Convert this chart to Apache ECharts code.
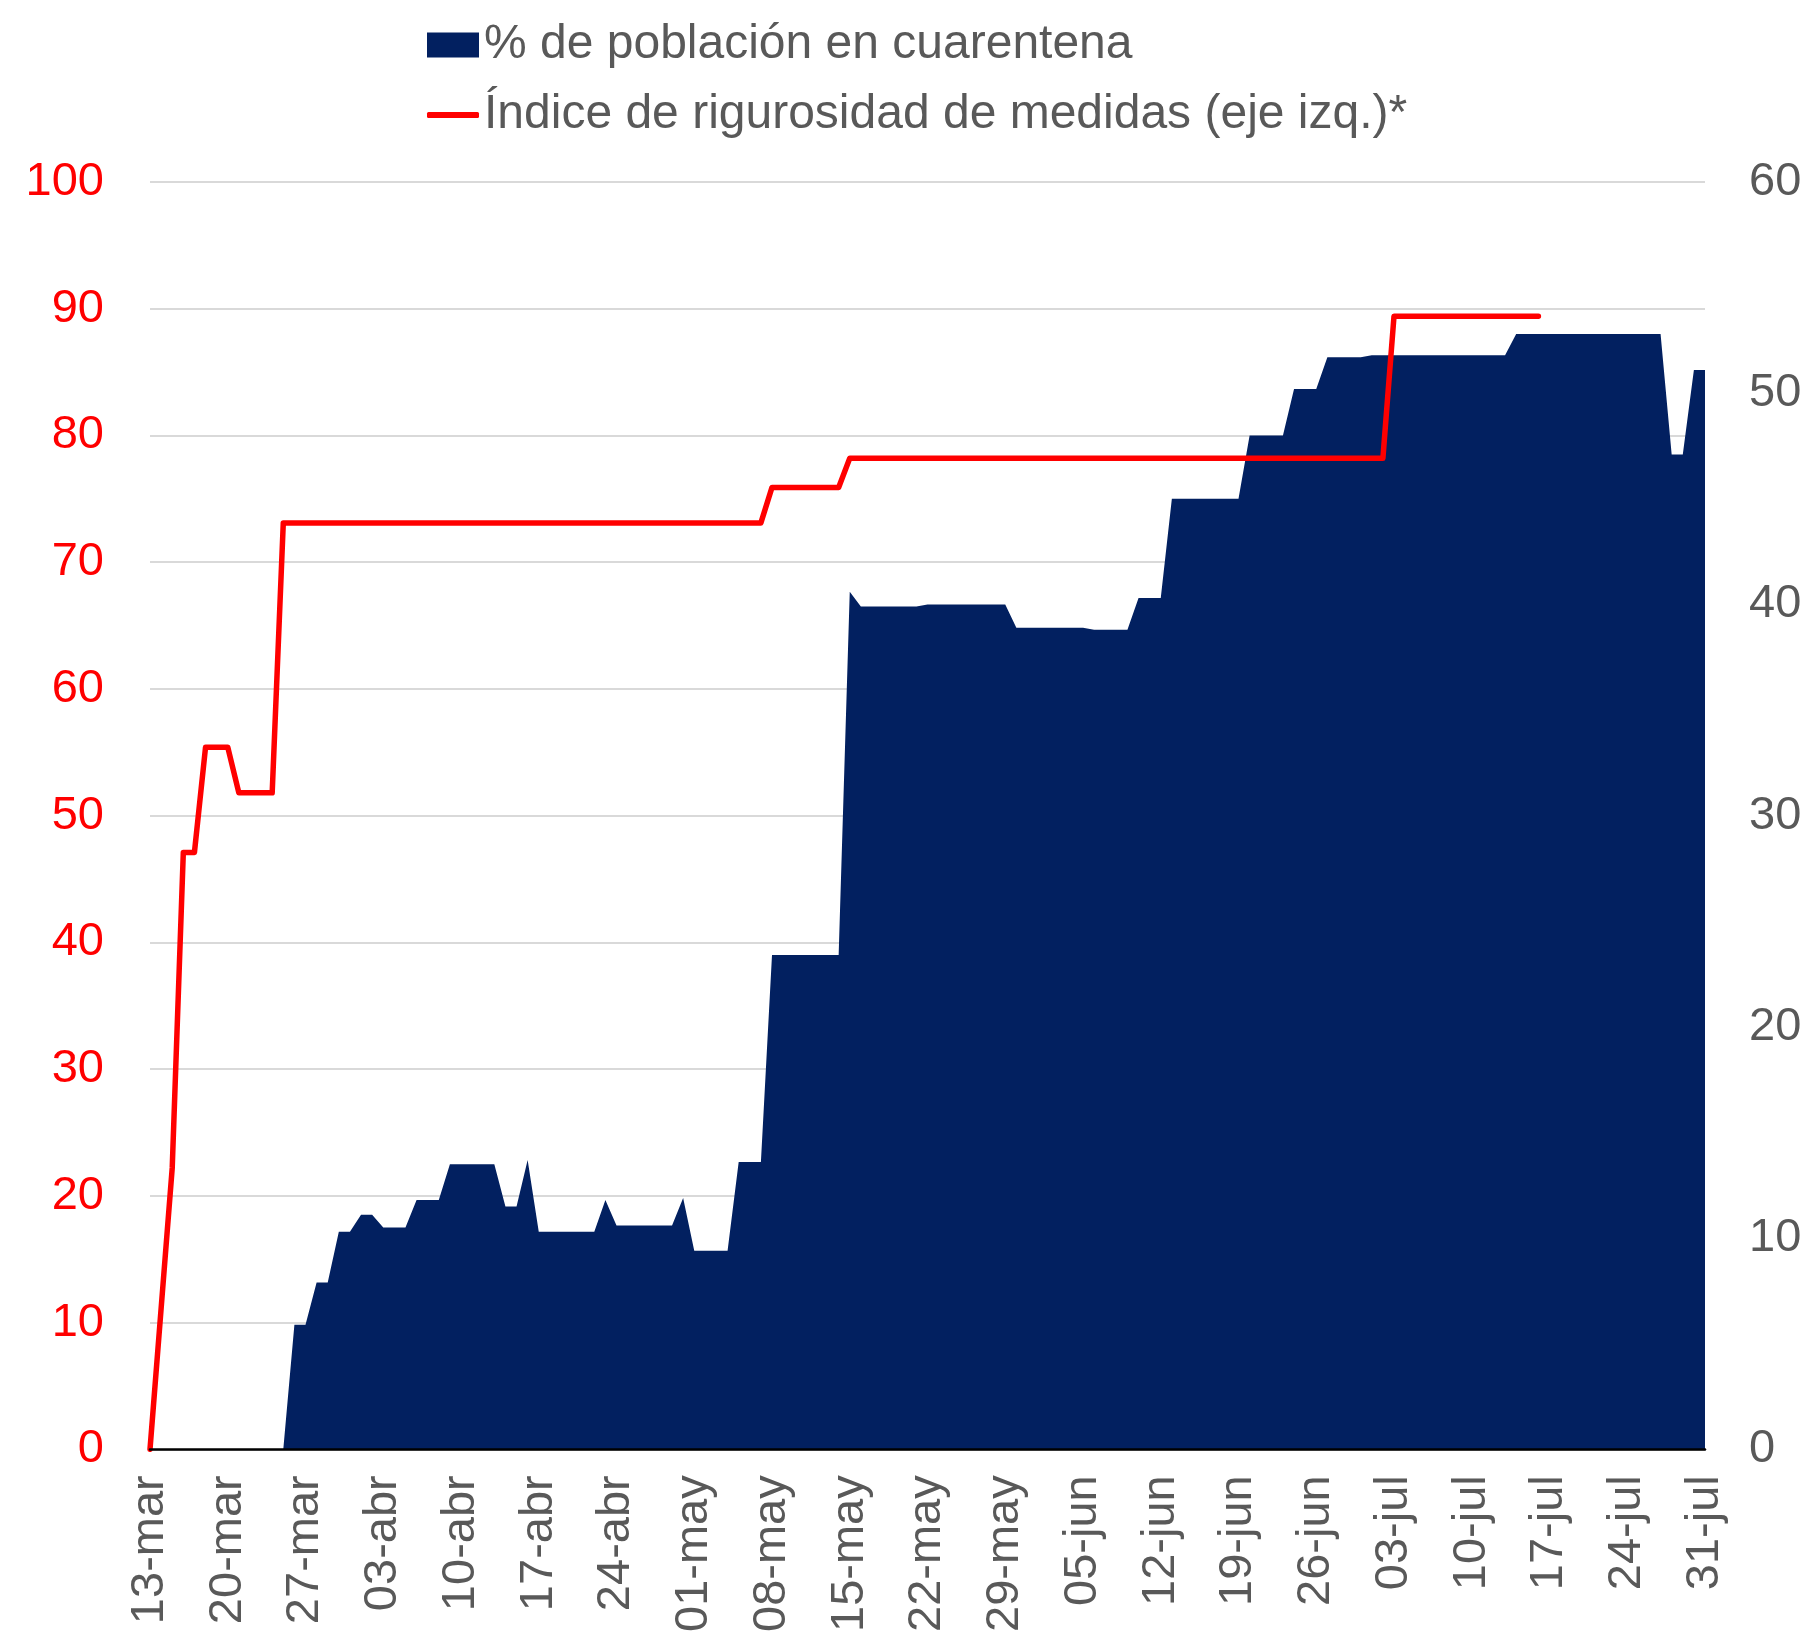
<!DOCTYPE html>
<html>
<head>
<meta charset="utf-8">
<script src="https://cdn.jsdelivr.net/npm/echarts@6/dist/echarts.min.js"></script>
<style>
html,body{margin:0;padding:0;background:#fff;}
#chart{width:1808px;height:1635px;}
</style>
</head>
<body>
<div id="chart"></div>
<script>
const dates = [
'13-mar','14-mar','15-mar','16-mar','17-mar','18-mar','19-mar','20-mar','21-mar','22-mar','23-mar','24-mar','25-mar','26-mar','27-mar','28-mar','29-mar','30-mar','31-mar',
'01-abr','02-abr','03-abr','04-abr','05-abr','06-abr','07-abr','08-abr','09-abr','10-abr','11-abr','12-abr','13-abr','14-abr','15-abr','16-abr','17-abr','18-abr','19-abr','20-abr','21-abr','22-abr','23-abr','24-abr','25-abr','26-abr','27-abr','28-abr','29-abr','30-abr',
'01-may','02-may','03-may','04-may','05-may','06-may','07-may','08-may','09-may','10-may','11-may','12-may','13-may','14-may','15-may','16-may','17-may','18-may','19-may','20-may','21-may','22-may','23-may','24-may','25-may','26-may','27-may','28-may','29-may','30-may','31-may',
'01-jun','02-jun','03-jun','04-jun','05-jun','06-jun','07-jun','08-jun','09-jun','10-jun','11-jun','12-jun','13-jun','14-jun','15-jun','16-jun','17-jun','18-jun','19-jun','20-jun','21-jun','22-jun','23-jun','24-jun','25-jun','26-jun','27-jun','28-jun','29-jun','30-jun',
'01-jul','02-jul','03-jul','04-jul','05-jul','06-jul','07-jul','08-jul','09-jul','10-jul','11-jul','12-jul','13-jul','14-jul','15-jul','16-jul','17-jul','18-jul','19-jul','20-jul','21-jul','22-jul','23-jul','24-jul','25-jul','26-jul','27-jul','28-jul','29-jul','30-jul','31-jul'
];

// % de población en cuarentena (right axis, 0-60)
const cuarentena = [
0,0,0,0,0,0,0,0,0,0,0,0,0,
5.9,5.9,7.9,7.9,10.3,10.3,11.1,11.1,10.5,10.5,10.5,11.8,11.8,11.8,
13.5,13.5,13.5,13.5,13.5,11.5,11.5,13.7,
10.3,10.3,10.3,10.3,10.3,10.3,11.8,
10.6,10.6,10.6,10.6,10.6,10.6,11.9,
9.4,9.4,9.4,9.4,13.6,13.6,13.6,
23.4,23.4,23.4,23.4,23.4,23.4,23.4,
40.6,
39.9,39.9,39.9,39.9,39.9,39.9,
40.0,40.0,40.0,40.0,40.0,40.0,40.0,40.0,
38.9,38.9,38.9,38.9,38.9,38.9,38.9,
38.8,38.8,38.8,38.8,
40.3,40.3,40.3,
45.0,45.0,45.0,45.0,45.0,45.0,45.0,
48.0,48.0,48.0,48.0,
50.2,50.2,50.2,
51.7,51.7,51.7,51.7,
51.8,51.8,51.8,51.8,51.8,51.8,51.8,51.8,51.8,51.8,51.8,51.8,51.8,
52.8,52.8,52.8,52.8,52.8,52.8,52.8,52.8,52.8,52.8,52.8,52.8,52.8,52.8,
47.1,47.1,
51.1,51.1
];

// Índice de rigurosidad de medidas (left axis, 0-100)
const indice = [
0,11.1,22.2,47.1,47.1,55.4,55.4,55.4,51.8,51.8,51.8,51.8,
73.1,73.1,73.1,73.1,73.1,73.1,73.1,73.1,73.1,73.1,73.1,
73.1,73.1,73.1,73.1,73.1,73.1,73.1,73.1,73.1,73.1,73.1,
73.1,73.1,73.1,73.1,73.1,73.1,73.1,73.1,73.1,73.1,73.1,
73.1,73.1,73.1,73.1,73.1,73.1,73.1,73.1,73.1,73.1,73.1,
75.9,75.9,75.9,75.9,75.9,75.9,75.9,
78.2,78.2,78.2,78.2,78.2,78.2,78.2,78.2,78.2,78.2,
78.2,78.2,78.2,78.2,78.2,78.2,78.2,78.2,78.2,78.2,
78.2,78.2,78.2,78.2,78.2,78.2,78.2,78.2,78.2,78.2,
78.2,78.2,78.2,78.2,78.2,78.2,78.2,78.2,78.2,78.2,
78.2,78.2,78.2,78.2,78.2,78.2,78.2,78.2,78.2,
89.4,89.4,89.4,89.4,89.4,89.4,89.4,89.4,89.4,89.4,89.4,89.4,89.4,89.4
];

const leftTicks = {min: 0, max: 100, interval: 10};
const rightTicks = {min: 0, max: 60, interval: 10};

const FONT = "'Liberation Sans', Arial, sans-serif";
const NAVY = '#022060';
const RED = '#FF0000';
const GRAY = '#595959';

const chart = echarts.init(document.getElementById('chart'), null, {renderer: 'canvas'});
chart.setOption({
  animation: false,
  backgroundColor: '#ffffff',
  textStyle: {fontFamily: FONT},
  legend: [
    {
      data: [{name: '% de población en cuarentena', icon: 'rect'}],
      left: 427, top: 21, padding: 0,
      itemWidth: 52, itemHeight: 25,
      textStyle: {fontSize: 48, color: GRAY, fontFamily: FONT}
    },
    {
      data: [{name: 'Índice de rigurosidad de medidas (eje izq.)*', icon: 'roundRect'}],
      left: 427, top: 91, padding: 0,
      itemWidth: 52, itemHeight: 6,
      textStyle: {fontSize: 48, color: GRAY, fontFamily: FONT}
    }
  ],
  grid: {left: 150, right: 103, top: 182, bottom: 185.5, containLabel: false},
  xAxis: {
    type: 'category',
    data: dates,
    boundaryGap: false,
    z: 10,
    axisLine: {show: true, lineStyle: {color: '#000000', width: 2.5}},
    axisTick: {show: false},
    axisLabel: {
      interval: 6, rotate: 90, fontSize: 47, color: GRAY, margin: 26, fontFamily: FONT
    },
    splitLine: {show: false}
  },
  yAxis: [
    {
      type: 'value', position: 'left',
      min: leftTicks.min, max: leftTicks.max, interval: leftTicks.interval,
      axisLine: {show: false}, axisTick: {show: false},
      axisLabel: {fontSize: 47, color: RED, margin: 46, fontFamily: FONT},
      splitLine: {show: true, lineStyle: {color: '#d9d9d9', width: 2}}
    },
    {
      type: 'value', position: 'right',
      min: rightTicks.min, max: rightTicks.max, interval: rightTicks.interval,
      axisLine: {show: false}, axisTick: {show: false},
      axisLabel: {fontSize: 47, color: GRAY, margin: 44, fontFamily: FONT},
      splitLine: {show: false}
    }
  ],
  series: [
    {
      name: '% de población en cuarentena',
      type: 'line',
      yAxisIndex: 1,
      data: cuarentena,
      symbol: 'none',
      z: 2,
      itemStyle: {color: NAVY},
      lineStyle: {width: 0, color: NAVY},
      areaStyle: {color: NAVY, opacity: 1}
    },
    {
      name: 'Índice de rigurosidad de medidas (eje izq.)*',
      type: 'line',
      yAxisIndex: 0,
      data: indice,
      symbol: 'none',
      z: 3,
      itemStyle: {color: RED},
      lineStyle: {width: 5.5, color: RED, cap: 'round', join: 'round'}
    }
  ]
});
</script>
</body>
</html>
